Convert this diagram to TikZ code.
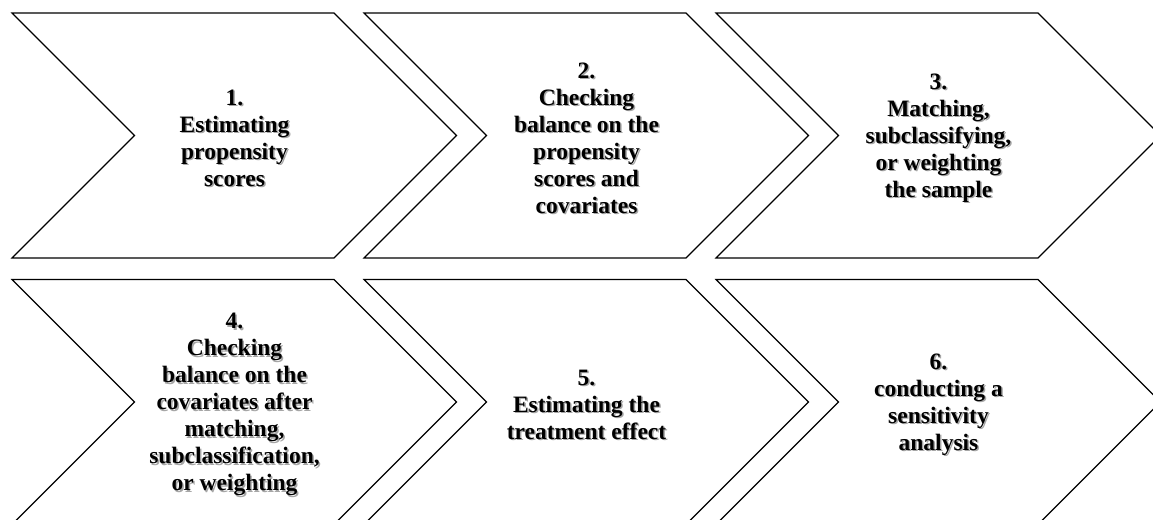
\documentclass[tikz,border=0pt]{standalone}
\usepackage{fontspec}
\setmainfont{Liberation Serif}
\begin{document}
\begin{tikzpicture}[x=1pt, y=1pt,
    chev/.style={draw=black, line width=1.2pt, line join=miter},
    steptext/.style={align=center, font=\fontsize{23.5}{27}\selectfont\bfseries},
    stepshadow/.style={steptext, text=black!35}]
    \useasboundingbox (0,0) rectangle (1153,519);
    \clip (0,0) rectangle (1153,519);
    % Flechas (chevrones)
    \foreach \L/\M in {12/383.5, 364/383.5, 716/383.5, 12/117, 364/117, 716/117}
      \draw[chev] (\L,\M+122.5) -- ++(322,0) -- ++(122.5,-122.5) -- ++(-122.5,-122.5)
        -- ++(-322,0) -- ++(122.5,122.5) -- cycle;
    % Textos de los pasos
    \foreach \n/\L/\M/\txt in {
        1/12/383.5/{1.\\Estimating\\propensity\\scores},
        2/364/383.5/{2.\\Checking\\balance on the\\propensity\\scores and\\covariates},
        3/716/383.5/{3.\\Matching,\\subclassifying,\\or weighting\\the sample},
        4/12/117/{4.\\Checking\\balance on the\\covariates after\\matching,\\subclassification,\\or weighting},
        5/364/117/{5.\\Estimating the\\treatment effect},
        6/716/117/{6.\\conducting a\\sensitivity\\analysis}} {
      \node[stepshadow] (sh\n) at (\L+224,\M-4) {\txt};
      \node[steptext] (s\n) at (\L+222.5,\M-2.5) {\txt};
    }
\end{tikzpicture}
\end{document}
